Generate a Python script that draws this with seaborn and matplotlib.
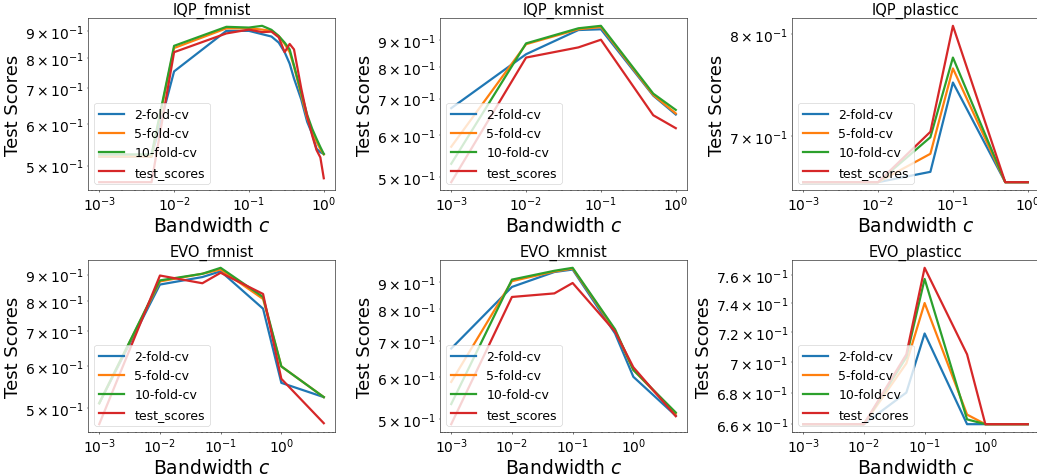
import numpy as np
import pandas as pd
import matplotlib
matplotlib.use("Agg")
import matplotlib.pyplot as plt
import seaborn as sns

# series names and colours
series_names = ["2-fold-cv", "5-fold-cv", "10-fold-cv", "test_scores"]
series_colors = ["#1f77b4", "#ff7f0e", "#2ca02c", "#d62728"]

# IQP_fmnist
iqp_fmnist_c = [0.001, 0.005, 0.01, 0.05, 0.1, 0.15, 0.2, 0.25, 0.3, 0.35, 0.4, 0.5, 0.6, 0.7, 0.8, 0.9, 1.0]
iqp_fmnist_2 = [0.52, 0.52, 0.754, 0.90, 0.90, 0.887, 0.878, 0.855, 0.82, 0.78, 0.731, 0.667, 0.605, 0.574, 0.538, 0.53, 0.526]
iqp_fmnist_5 = [0.52, 0.52, 0.835, 0.91, 0.91, 0.905, 0.90, 0.88, 0.85, 0.82, 0.77, 0.68, 0.615, 0.58, 0.555, 0.537, 0.525]
iqp_fmnist_10 = [0.525, 0.525, 0.843, 0.916, 0.913, 0.92, 0.904, 0.88, 0.855, 0.83, 0.774, 0.687, 0.624, 0.587, 0.562, 0.542, 0.526]
iqp_fmnist_test = [0.465, 0.465, 0.82, 0.89, 0.905, 0.895, 0.897, 0.875, 0.82, 0.85, 0.83, 0.70, 0.62, 0.57, 0.535, 0.518, 0.473]

# IQP_kmnist
iqp_kmnist_c = [0.001, 0.01, 0.05, 0.1, 0.5, 1.0]
iqp_kmnist_2 = [0.672, 0.846, 0.938, 0.941, 0.709, 0.654]
iqp_kmnist_5 = [0.57, 0.883, 0.941, 0.95, 0.711, 0.657]
iqp_kmnist_10 = [0.53, 0.886, 0.945, 0.955, 0.715, 0.667]
iqp_kmnist_test = [0.49, 0.834, 0.871, 0.90, 0.652, 0.617]

# IQP_plasticc
iqp_plasticc_c = [0.001, 0.01, 0.05, 0.1, 0.5, 1.0]
iqp_plasticc_2 = [0.659, 0.659, 0.668, 0.751, 0.659, 0.659]
iqp_plasticc_5 = [0.659, 0.659, 0.684, 0.765, 0.659, 0.659]
iqp_plasticc_10 = [0.659, 0.659, 0.699, 0.776, 0.659, 0.659]
iqp_plasticc_test = [0.659, 0.659, 0.704, 0.809, 0.659, 0.659]

# EVO_fmnist
evo_fmnist_c = [0.001, 0.01, 0.05, 0.1, 0.5, 1.0, 5.0]
evo_fmnist_2 = [0.51, 0.861, 0.89, 0.913, 0.774, 0.558, 0.524]
evo_fmnist_5 = [0.51, 0.873, 0.903, 0.92, 0.808, 0.60, 0.524]
evo_fmnist_10 = [0.51, 0.877, 0.903, 0.927, 0.815, 0.60, 0.524]
evo_fmnist_test = [0.465, 0.896, 0.866, 0.907, 0.826, 0.568, 0.467]

# EVO_kmnist
evo_kmnist_c = [0.001, 0.01, 0.05, 0.1, 0.5, 1.0, 5.0]
evo_kmnist_2 = [0.677, 0.881, 0.939, 0.949, 0.722, 0.60, 0.508]
evo_kmnist_5 = [0.587, 0.903, 0.941, 0.953, 0.731, 0.618, 0.512]
evo_kmnist_10 = [0.534, 0.909, 0.944, 0.956, 0.735, 0.618, 0.515]
evo_kmnist_test = [0.49, 0.844, 0.857, 0.896, 0.728, 0.625, 0.507]

# EVO_plasticc
evo_plasticc_c = [0.001, 0.01, 0.05, 0.1, 0.5, 1.0, 5.0]
evo_plasticc_2 = [0.66, 0.66, 0.68, 0.719, 0.66, 0.66, 0.66]
evo_plasticc_5 = [0.66, 0.66, 0.699, 0.74, 0.666, 0.66, 0.66]
evo_plasticc_10 = [0.66, 0.66, 0.703, 0.757, 0.663, 0.66, 0.66]
evo_plasticc_test = [0.66, 0.66, 0.705, 0.765, 0.705, 0.66, 0.66]

panels = [
    ("IQP_fmnist", iqp_fmnist_c, [iqp_fmnist_2, iqp_fmnist_5, iqp_fmnist_10, iqp_fmnist_test]),
    ("IQP_kmnist", iqp_kmnist_c, [iqp_kmnist_2, iqp_kmnist_5, iqp_kmnist_10, iqp_kmnist_test]),
    ("IQP_plasticc", iqp_plasticc_c, [iqp_plasticc_2, iqp_plasticc_5, iqp_plasticc_10, iqp_plasticc_test]),
    ("EVO_fmnist", evo_fmnist_c, [evo_fmnist_2, evo_fmnist_5, evo_fmnist_10, evo_fmnist_test]),
    ("EVO_kmnist", evo_kmnist_c, [evo_kmnist_2, evo_kmnist_5, evo_kmnist_10, evo_kmnist_test]),
    ("EVO_plasticc", evo_plasticc_c, [evo_plasticc_2, evo_plasticc_5, evo_plasticc_10, evo_plasticc_test]),
]

dpi = 50
fig, axes = plt.subplots(2, 3, figsize=(1037 / dpi, 477 / dpi), dpi=dpi)
plt.subplots_adjust(left=88 / 1037, right=1039 / 1037, bottom=1 - 433 / 477, top=1 - 19 / 477,
                    wspace=0.425, hspace=0.407)

for ax, (title, c, ys) in zip(axes.flat, panels):
    for name, col, y in zip(series_names, series_colors, ys):
        df = pd.DataFrame({"c": c, "score": y})
        sns.lineplot(data=df, x="c", y="score", color=col, label=name, linewidth=3.2, ax=ax)
    ax.set_xscale("log")
    ax.set_yscale("log")
    ax.tick_params(which="both", labelsize=20)
    ax.set_title(title, fontsize=21)
    ax.set_xlabel("Bandwidth $c$", fontsize=27)
    ax.set_ylabel("Test Scores", fontsize=26)
    ax.legend(loc="lower left", fontsize=18)

fig.savefig("out.png", dpi=dpi)
